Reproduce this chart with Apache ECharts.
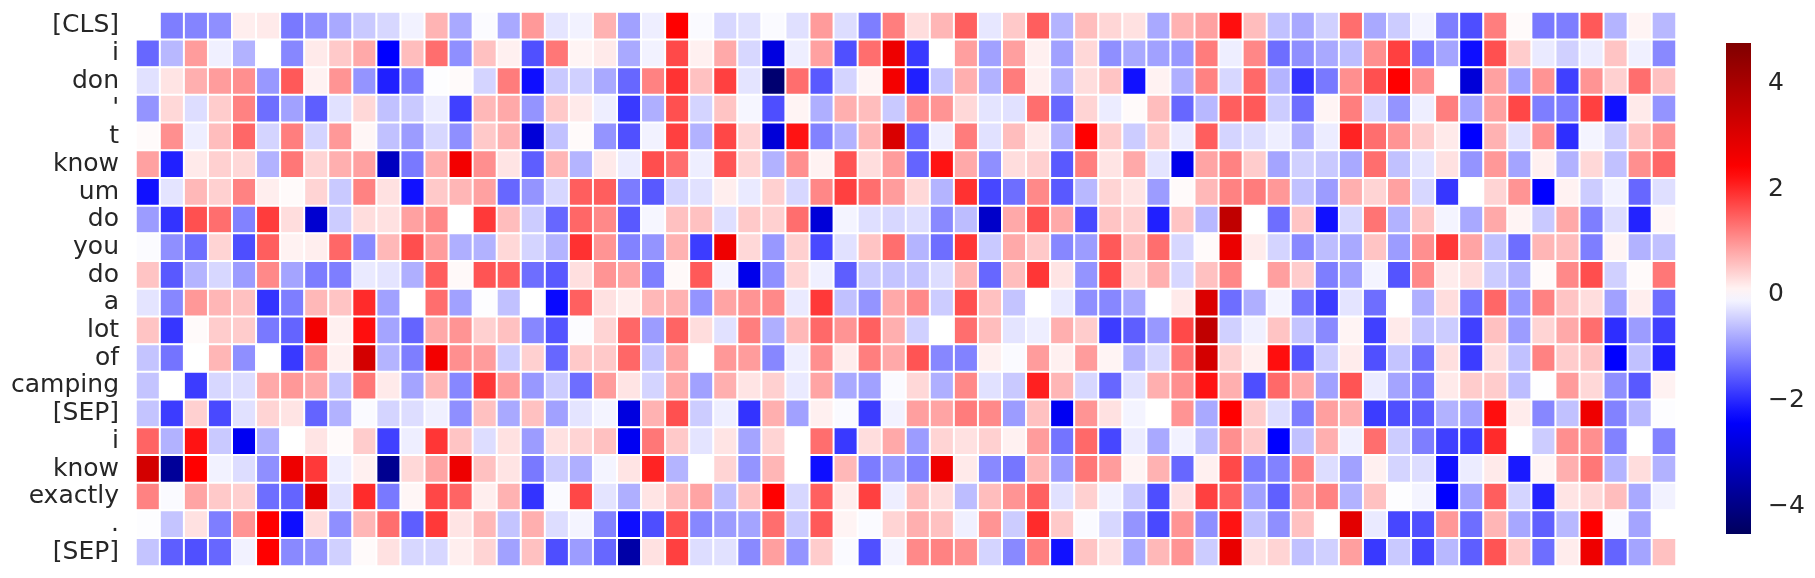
<!DOCTYPE html>
<html>
<head>
<meta charset="utf-8">
<style>html,body{margin:0;padding:0;background:#fff}#c{width:1815px;height:578px}</style>
<script src="https://cdn.jsdelivr.net/npm/echarts@6/dist/echarts.min.js"></script>
</head>
<body>
<div id="c"></div>
<script>
const tokens = ["[CLS]","i","don","'","t","know","um","do","you","do","a","lot","of","camping","[SEP]","i","know","exactly",".","[SEP]"];
const colorbarTicks = [-4,-2,0,2,4];
const dataMin = -4.52, dataMax = 4.76;

const row00 = [0,-1.2,-1.15,-1.05,.16,.2,-1.25,-1.05,-.8,-.5,-.37,-.12,.7,-.8,-.04,-.8,
 .95,-.24,-.12,.72,-.88,-.16,2.38,-.05,-.37,-.29,-.05,-.29,.93,-.32,-1.2,1.2,.32,.68,1.48,-.22,.5,
 1.5,-.7,.62,.38,.28,-.8,.72,.88,2.25,.62,-.58,-.8,-.44,1.35,-.8,-.48,-.1,-1.2,-1.65,1.2,.05,
 -1.25,-1.2,1.55,-.7,.1,-.66];
const row01 = [-1.42,-.66,.92,-.14,-.72,0,-1.12,.2,.5,.8,-2.38,.62,1.35,-1.05,.58,.14,
 -1.63,1.27,.1,.2,-.8,-.12,1.7,.14,.8,-.37,-2.79,-.16,.88,-1.63,1.35,2.7,-1.85,0,.9,-.88,.9,
 .14,-.88,.36,-1.05,-.8,-.88,-.96,1.22,-.16,1.12,-1.35,-1.05,-.8,-.62,1.05,1.78,-1.22,-.85,-2.25,1.63,.48,
 -.2,-.44,-.18,.55,-.14,-1.1];
const row02 = [-.28,.25,.75,.92,1.05,-.96,1.55,.12,1,-1,-2.08,-1.25,-.02,.05,-.4,1.22,
 -2.25,-.5,-.44,-.8,-1.42,1.17,1.9,.58,1.78,-.25,-4.28,1.35,-1.55,-.4,.1,2.58,-2.08,-.55,.75,-.72,1.22,
 .14,-.72,.32,.55,-2.22,.12,-.75,1.17,-.37,1.4,-.7,-1.9,-1.25,1.05,1.63,2.38,1.05,0,-2.9,.88,-.88,
 1,-1.78,1,.44,1.35,.58];
const row03 = [-1,.36,-.32,.48,1.17,-1.35,-.88,-1.5,-.28,.36,-.58,-.5,-.18,-1.78,.66,.8,
 -1,.5,.2,-.16,-1.85,-.75,1.63,-.4,.55,-.08,-1.65,.1,-.75,.75,.62,-.5,1.05,1,.36,-.25,-.28,
 1.35,-1.42,.4,-.18,.05,.62,-1.42,-.66,1.5,1.55,-.48,-1.35,.1,1.2,-.37,-1,-.16,1.2,-.85,.88,1.72,
 -1.2,-1.2,1.78,-2.22,.2,-1];
const row04 = [.05,1.05,-.16,.62,1.42,-.4,1.2,-.4,.96,.08,-.58,-.92,-.37,-1.05,.5,.72,
 -2.9,-.58,.05,-1,-1.63,-.12,1.78,-.72,1.72,.4,-2.9,2.2,-1.17,-.72,.68,3.1,-1.45,-.16,1.22,-.28,.62,
 .2,-.75,2.38,.48,-.48,.5,-.18,1.5,-.4,-.32,-.16,-.75,-.18,2.05,1.35,1,.48,.2,-2.38,.72,-.28,
 1.05,-1.95,-.1,-.48,.58,1];
const row05 = [.88,-2.08,.2,.44,.36,-.72,1.27,.4,.75,.88,-3.22,-1.25,.75,2.6,1.05,.25,
 -1.5,.68,-.7,.2,-.18,1.65,1.35,-.16,1.6,.4,-.72,1.05,.12,1.6,.32,.92,-1.45,2.2,.8,-1.05,.32,
 .44,-1.55,1.2,.25,.8,-.25,-2.65,.85,1.17,.48,-.85,-.44,-.5,-.8,1.35,-.58,-.25,.28,-1,.96,-.85,
 .14,-.72,.36,-.58,1.05,1.42];
const row06 = [-2.22,-.25,.66,.44,1.17,.16,.05,.4,-.5,1.17,.28,-2.22,.5,.68,.88,-1.42,
 -1,-.37,1.5,1.5,-1.22,-1.55,-.4,-.28,.16,-.2,.44,-.37,1.12,1.78,1.35,.92,.36,-.7,1.92,-1.72,-1.35,
 1.1,-1.55,-.66,.4,.25,-.92,.05,.66,1.17,1.22,.96,-.58,-.92,.75,.4,.88,-.37,-1.88,0,.4,1,
 -2.38,.12,-.48,-.12,-1.42,-.3];
const row07 = [-.92,-1.9,1.63,1.35,-1.17,1.82,.32,-3,-.48,.32,.28,.88,1.12,0,1.85,.62,
 -.48,-1.42,1.42,1.1,-1.55,-.08,.58,.58,-.3,.5,.44,1.35,-2.9,-.1,-.3,-.37,-.32,-1.1,-.62,-3.1,.8,
 1.63,.8,-1.7,.55,.44,-2.08,.55,-.66,3.57,0,-1.35,.55,-2.22,-.37,1.3,-.72,.55,-.1,-.8,.8,.1,
 -.5,.8,-1.2,-.32,-2.05,.08];
const row08 = [-.04,-1.05,-1.35,.4,-1.65,1.5,.12,.16,1.42,-1.1,.66,1.65,.92,-.75,-.72,.36,
 -.4,-.7,1.92,1,-1.17,-1,.72,-1.82,2.68,.36,-.96,.44,-1.7,-.28,.55,1.35,-.7,-1.35,1.88,-.5,.8,
 .5,-1.12,-.92,1.55,.62,1.35,-.37,.05,2.75,.18,-.4,-1.1,-.62,-.8,.55,-.92,1.05,1.85,.85,-.58,-1.35,
 .68,.62,-1.2,.1,-.72,-.58];
const row09 = [.55,-1.55,-.7,-.37,-.92,1.1,-.85,-1.22,-1.2,-.2,-.25,-.75,1.5,.06,1.6,1.5,
 -1.35,-1.55,.3,1,.85,-1.2,.06,1.55,-.1,-2.65,-1.05,.4,-.14,-1.5,-.5,-.55,-.55,-.32,.68,-1.42,.62,
 1.88,.25,-1,1.7,.36,.75,-.37,.58,1.12,0,.9,.48,-1.2,-.88,-.1,-1.6,1.1,.18,.32,-.48,-.72,
 .05,1.1,1.65,-.44,.05,1.27];
const row10 = [-.25,-1.12,.96,.68,.58,-1.9,-1.2,.66,.55,1.98,-.88,0,1.35,-.88,-.02,-.58,
 0,-2.3,1.48,.28,.16,.66,.72,-1,.85,1,1.1,-.2,1.85,-.58,-1,.8,1.1,-.48,1.63,.58,-.55,
 0,-.2,-1.05,-1.12,-.8,0,.2,3.05,-1.35,-.75,-.1,-1.3,-1.82,-.25,-1.35,0,-.75,.32,-1.3,1.42,-.96,
 1.17,.55,.32,-.88,.16,-1.35];
const row11 = [.55,-1.88,.05,.48,.48,-1.25,-1.45,2.58,.14,2.25,-.85,-1.45,.8,1,.44,.58,
 -1.12,-1.6,-.03,.4,1.42,-.92,1.45,.32,-.28,1.2,-.75,.66,1.4,1,1.48,.75,-.44,0,1.35,.62,-.25,
 -.16,.75,.48,-1.82,-1.5,-.96,1.7,3.57,-.44,-.14,.55,-.55,-1.1,.1,-1.78,.2,-.55,-.48,-1.78,.58,-.92,
 .4,.8,1.35,-1.95,-.92,-1.78];
const row12 = [-.55,-1.3,0,.68,-1.05,0,-1.85,1.1,.14,3.2,-.7,-1.2,2.6,1.05,.92,-.48,
 .44,-1.42,.5,.5,1.42,-.55,.85,0,.96,.92,-1.12,-.16,1.05,.18,1.2,.8,1.6,-1.12,-1.17,.14,-.05,
 .92,.14,.92,.1,-.7,-.37,1.27,3.2,.44,.14,2.25,-1.6,-.48,.18,-1.63,-.55,-1.35,.3,-1.82,.32,-.58,
 1.17,.48,.55,-2.38,-.58,-2.08];
const row13 = [-.55,0,-1.82,-.37,-.32,.8,.96,.8,-.55,1.27,.2,-.85,.68,-1.12,1.88,.92,
 -.96,-.48,-1.35,.92,.25,-.4,.8,-.88,.75,.25,.44,-.2,.85,-.8,-.88,-.05,.36,-.75,1.1,-.28,-.5,
 2.08,.68,-.37,-1.42,-.28,.75,1.05,2.2,.75,-1.65,1.4,.8,-.88,1.6,-.18,-.85,-1.22,.2,.48,.48,-.62,
 -.01,.92,.36,-1.05,-1.55,.12];
const row14 = [-.55,-1.82,.44,-1.7,-.28,.4,.25,-1.45,-.72,-.05,-.4,-.32,-.14,-1.05,.58,-.8,
 .58,-.88,-.25,-.1,-2.8,.72,1.63,-.48,-.16,-1.9,.75,-.88,.14,-.05,-1.82,-.12,.9,.85,1.22,1.1,-.92,
 .58,-2.55,1,.28,-.1,0,1,-.8,2.38,.48,-.32,-1.2,.9,.75,-1.82,-1.63,-1.5,-.72,-.88,2.25,.18,
 -1.12,-.58,2.68,-1.17,-.66,-.02];
const row15 = [1.45,-.72,2.2,-.5,-2.55,-.75,0,.25,.05,.48,-1.78,-.16,1.88,.55,-.32,.28,
 -.92,.28,.4,.58,-2.55,1.27,.5,-.25,.25,-.85,.4,0,1.35,-1.85,.32,.8,-.92,.4,.28,.44,.13,
 .92,-1.3,1.4,-1.72,-.18,-.8,-.12,-.62,1.05,.5,-2.38,-.58,.75,-.14,1.35,-.48,-1.2,-1.78,-1.78,1.98,0,
 -.48,1.05,1.05,-1.17,0,-1.17];
const row16 = [3.2,-3.74,2.38,-.12,-.32,-1.05,2.7,1.85,-.16,.14,-3.85,.36,.85,2.7,.58,.25,
 -1.25,-.48,-.75,-.1,.25,2.05,-.7,0,.4,-1,.68,0,-2.25,.66,-1.22,-.92,-1.17,2.68,.2,-1.1,-1.28,
 .68,-.92,1.27,.92,.1,.72,-1.42,.14,1.7,-1.22,-1.17,1.17,-.32,-.88,.14,-.4,-.32,-2.22,-.18,.2,-2.15,
 .1,.75,1.27,-.7,.32,-.72];
const row17 = [1.17,-.05,.85,.5,.44,-1.35,-1.45,2.9,-.28,1.98,-1.25,.08,1.72,1.45,.16,.72,
 -1.9,-.05,1.72,-.25,-.75,.25,.62,.85,-.62,.58,2.38,-.37,1.48,.16,1.78,-.16,.62,.32,-.62,.62,1,
 1.48,-.28,.44,-.12,-.5,-1.65,.28,1.78,1.48,-.88,-1.48,.9,1.17,-.72,.58,-.02,-.1,-2.38,-.88,1.5,-.4,
 -2.05,.25,.36,.62,-.8,-.12];
const row18 = [-.02,-.55,.28,-1.2,1,2.38,-2.25,.32,-1.05,.68,1.35,-1.5,1.85,.25,.66,-.55,
 .75,-.32,-.1,-1.17,-2.25,-1.65,1.63,-1.12,-.92,-.85,1.35,-.5,1.55,.1,-.05,.4,.75,.58,-.14,1,-.48,
 1.98,.5,-.05,-.37,-1,-1.7,1,-1.05,2.2,-.58,-1.05,.58,0,2.9,-.2,-1.72,-1.63,.96,-1.35,.68,-.82,
 -1.48,-.66,2.38,-.05,-.85,0];
const row19 = [-.55,-1.5,-1.63,-1.42,-.12,2.38,-1.1,-1,-.44,.05,.28,-.37,-.37,.16,.4,-.88,
 .58,-1.65,-.92,-1.42,-3.55,.28,1.78,-.32,-.28,-1.1,.9,-1,.48,-.05,-1.63,-.1,1.1,1.17,1.05,-.4,-1.1,
 1.2,-2.22,.55,.28,-.8,.66,1,-.48,2.8,.28,.4,-.58,-.44,.9,-1.85,-.5,-1.72,-.66,-1.5,1.6,.5,
 -1.35,.18,2.7,-1.45,-.85,.58];

const rows = [row00,row01,row02,row03,row04,row05,row06,row07,row08,row09,row10,row11,row12,row13,row14,row15,row16,row17,row18,row19];
const columns = row00.map((_, i) => String(i));
const cells = [];
rows.forEach((r, y) => r.forEach((v, x) => cells.push([x, y, v])));

// matplotlib "seismic" stops, symmetric around 0 as seaborn's center=0 does
const limit = Math.max(Math.abs(dataMin), Math.abs(dataMax));
const seismic = ['#00004c','#0000ff','#ffffff','#ff0000','#800000'];
function seismicAt(v){
  const t = Math.min(1, Math.max(0, (v + limit) / (2 * limit))) * 4;
  const i = Math.min(3, Math.floor(t)), f = t - i;
  const a = seismic[i], b = seismic[i + 1];
  const ch = (s, k) => parseInt(s.substr(1 + 2 * k, 2), 16);
  return 'rgb(' + [0,1,2].map(k => Math.round(ch(a,k) + (ch(b,k) - ch(a,k)) * f)).join(',') + ')';
}
const font = '"DejaVu Sans"', ink = '#262626';
const chart = echarts.init(document.getElementById('c'), null, {renderer:'canvas'});
chart.setOption({
  animation:false,
  backgroundColor:'#fff',
  grid:[
    {left:136, top:12, width:1540, height:554},
    {left:1726, top:43, width:25, height:491}
  ],
  xAxis:[
    {type:'category', gridIndex:0, data:columns, show:false},
    {type:'value', gridIndex:1, min:0, max:1, show:false}
  ],
  yAxis:[
    {type:'category', gridIndex:0, data:tokens, inverse:true,
     axisLine:{show:false}, axisTick:{show:false}, splitLine:{show:false},
     axisLabel:{interval:0, margin:17, fontFamily:font, fontSize:25, color:ink}},
    {type:'value', gridIndex:1, position:'right', min:dataMin, max:dataMax,
     axisLine:{show:false}, splitLine:{show:false},
     axisTick:{show:true, length:10, customValues:colorbarTicks, lineStyle:{color:ink, width:2}},
     axisLabel:{margin:17, customValues:colorbarTicks, fontFamily:font, fontSize:25, color:ink,
       formatter:v => String(v).replace('-', '\u2212')}}
  ],
  visualMap:{show:false, seriesIndex:0, min:-limit, max:limit, inRange:{color:seismic}},
  series:[
    {type:'heatmap', xAxisIndex:0, yAxisIndex:0, data:cells, progressive:0, animation:false,
     itemStyle:{borderColor:'#fff', borderWidth:2}, emphasis:{disabled:true}},
    {type:'custom', xAxisIndex:1, yAxisIndex:1, silent:true, data:[[dataMin, dataMax]],
     renderItem:(params, api) => {
       const p0 = api.coord([0, api.value(1)]), p1 = api.coord([1, api.value(0)]);
       const stops = [];
       for (let i = 0; i <= 40; i++) {
         const off = i / 40;
         stops.push({offset:off, color:seismicAt(dataMax + (dataMin - dataMax) * off)});
       }
       return {type:'rect', shape:{x:p0[0], y:p0[1], width:p1[0]-p0[0], height:p1[1]-p0[1]},
         style:{fill:new echarts.graphic.LinearGradient(0,0,0,1,stops)}};
     }}
  ]
});
</script>
</body>
</html>
